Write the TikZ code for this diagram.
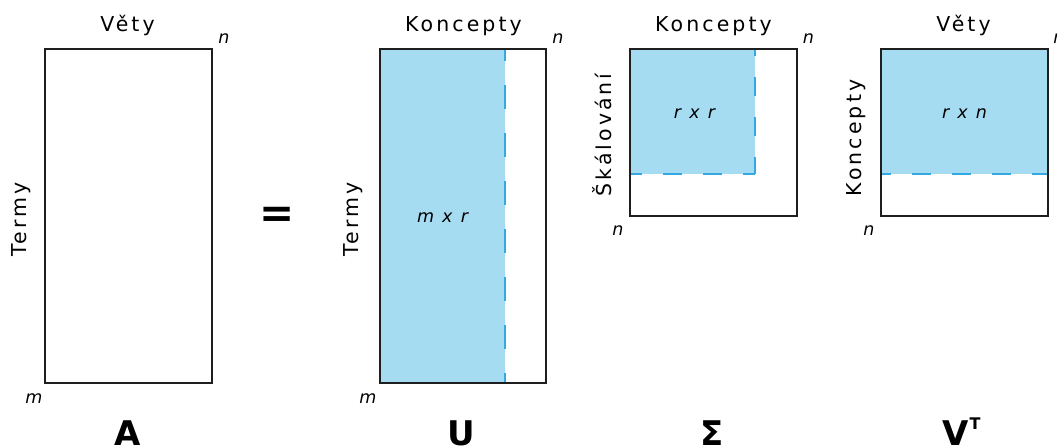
\documentclass[tikz,border=0pt]{standalone}
\usepackage{fontspec}
\setmainfont{DejaVu Sans}[LetterSpace=15]
\definecolor{sky}{RGB}{166,220,242}
\definecolor{dashblue}{RGB}{52,168,224}
\definecolor{framecol}{RGB}{30,30,30}
\begin{document}
\begin{tikzpicture}[x=1pt,y=-1pt,
  title/.style={font=\fontsize{20.5}{24}\selectfont, anchor=base, inner sep=0pt},
  sidetitle/.style={font=\fontsize{20.5}{24}\selectfont, anchor=base, inner sep=0pt, rotate=90},
  dim/.style={font=\fontsize{17.5}{20}\selectfont\itshape, anchor=base, inner sep=0pt},
  big/.style={font=\fontsize{34}{40}\selectfont\bfseries, anchor=base, inner sep=0pt},
  frame/.style={draw=framecol, line width=1.3pt, inner sep=0pt, outer sep=0pt},
  blue/.style={fill=sky},
  dline/.style={draw=dashblue, line width=1.6pt}
]
\useasboundingbox (0,0) rectangle (1057,445);

% ---------- A ----------
\node[frame, minimum width=167pt, minimum height=334pt] (A) at (128.5,216) {};
\node[title] (tA) at (127.5,31) {Věty};
\node[dim] (nA) at (224,43) {n};
\node[dim] (mA) at (34,403) {m};
\node[sidetitle] (sA) at (26,219.5) {Termy};
\node[big] (lA) at (128,445) {A};

% ---------- = ----------
\node[font=\fontsize{42}{46}\selectfont\bfseries, inner sep=0pt] (eq) at (277.5,217.5) {=};

% ---------- U ----------
\fill[blue] (380,49) rectangle (505,383);
\draw[dline, dash pattern=on 24pt off 24pt, dash phase=12pt] (505,49) -- (505,383);
\node[frame, minimum width=166pt, minimum height=334pt] (U) at (463,216) {};
\node[title] (tU) at (463.5,31) {Koncepty};
\node[dim] (nU) at (558,43) {n};
\node[dim] (mU) at (368,403) {m};
\node[sidetitle] (sU) at (358,219.5) {Termy};
\node[dim] (dU) at (442.5,222) {m x r};
\node[big] (lU) at (461,445) {U};

% ---------- Sigma ----------
\fill[blue] (630,49) rectangle (755,174);
\draw[dline, dash pattern=on 19pt off 21pt, dash phase=12pt] (755,49) -- (755,174);
\draw[dline, dash pattern=on 19pt off 21pt, dash phase=7pt] (630,174) -- (755,174);
\node[frame, minimum width=167pt, minimum height=167pt] (S) at (713.5,132.5) {};
\node[title] (tS) at (713.5,31) {Koncepty};
\node[dim] (nS1) at (808.5,43) {n};
\node[dim] (nS2) at (618,235) {n};
\node[sidetitle] (sS) at (611,135) {Škálování};
\node[dim] (dS) at (694.5,118) {r x r};
\node[big] (lS) at (712,445) {Σ};

% ---------- V^T ----------
\fill[blue] (881,49) rectangle (1048,174);
\draw[dline, dash pattern=on 19pt off 21pt, dash phase=9pt] (881,174) -- (1048,174);
\node[frame, minimum width=167pt, minimum height=167pt] (V) at (964.5,132.5) {};
\node[title] (tV) at (963.5,31) {Věty};
\node[dim] (nV1) at (1059,43) {n};
\node[dim] (nV2) at (869,235) {n};
\node[sidetitle] (sV) at (861,138) {Koncepty};
\node[dim] (dV) at (964.5,118) {r x n};
\node[big, anchor=base west] (lV) at (942,445) {V\hspace{1pt}\raisebox{16pt}{\fontsize{16}{18}\selectfont T}};
\end{tikzpicture}
\end{document}
